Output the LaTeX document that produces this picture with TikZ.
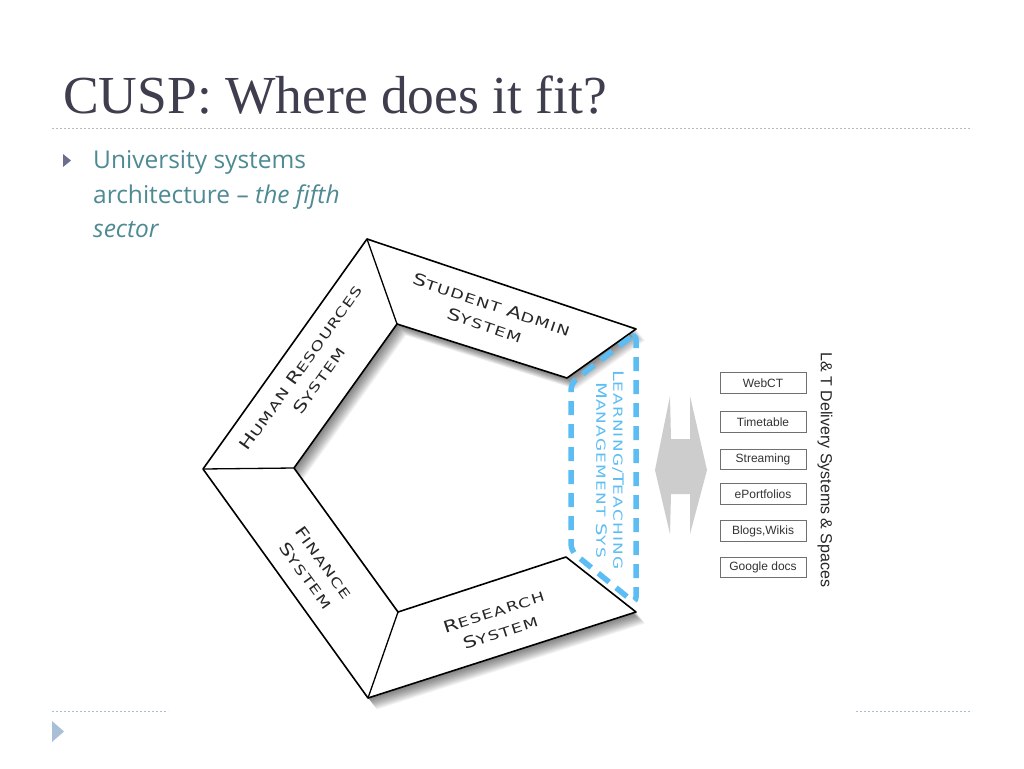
\documentclass[tikz,border=0pt]{standalone}
\usepackage{fontspec}
\usepackage{xcolor}
\usetikzlibrary{arrows.meta,positioning,calc}
\newfontfamily\titlefont{Liberation Serif}
\newfontfamily\bodyfont{Open Sans}
\newfontfamily\cpfont[FakeStretch=1.35, LetterSpace=10]{DejaVu Sans}
\newfontfamily\arialfont{Liberation Sans}
\definecolor{titlegray}{HTML}{3E3E4E}
\definecolor{bodyteal}{HTML}{4E8A93}
\definecolor{bulletgray}{HTML}{6D6D8F}
\definecolor{rulegray}{HTML}{BBBBBB}
\definecolor{footblue}{HTML}{A9BFD8}
\definecolor{lmsblue}{HTML}{5CBDF5}
\definecolor{arrowgray}{HTML}{CDCDCD}
\definecolor{boxgray}{HTML}{707070}
\newcommand{\capb}[1]{{\fontsize{16}{22}\selectfont #1}}
\newcommand{\capm}[1]{{\fontsize{14.5}{20}\selectfont #1}}
\def\framepath{(636,329) -- (367,239) -- (203,469) -- (368,698) -- (636,612)
  -- (566,557) -- (398,612) -- (294,468) -- (397,324) -- (567,378) -- cycle}

\begin{document}
\begin{tikzpicture}[x=1pt, y=-1pt,
  sector/.style={font=\cpfont\fontsize{13}{22}\selectfont, align=center, text=black!85},
  lmslabel/.style={font=\cpfont\fontsize{12.5}{17}\selectfont, align=center, text=lmsblue},
  sysbox/.style={draw=boxgray, line width=0.8pt, minimum width=86pt, minimum height=20.5pt,
    inner sep=0pt, font=\arialfont\fontsize{12}{14}\selectfont, text=black!80},
  bodytext/.style={anchor=base west, inner sep=0pt, text=bodyteal,
    font=\bodyfont\fontsize{24.5}{30}\selectfont}]
  \useasboundingbox[fill=white] (0,0) rectangle (1024,768);
  % Title
  \node[anchor=base west, inner sep=0pt, text=titlegray,
    font=\titlefont\fontsize{53.5}{60}\selectfont] (title) at (63,113) {CUSP: Where does it fit?};
  \draw[rulegray, line width=1pt, dash pattern=on 2pt off 2pt] (52,128) -- (972,128);
  % Bullet
  \fill[bulletgray] (63,154) -- (71,160.5) -- (63,167) -- cycle;
  \node[bodytext] (bul1) at (93,168) {University systems};
  \node[bodytext] (bul2) at (93,203) {architecture \textendash{} \textit{the fifth}};
  \node[bodytext] (bul3) at (93,237) {\textit{sector}};
  % Shadow of the frame
  \foreach \s in {1,...,12}
    \fill[black, opacity=0.05, shift={(\s*0.75,\s*0.95)}] \framepath;
  % Frame
  \fill[white] \framepath;
  \draw[line width=1.6pt, line join=round] \framepath;
  \draw[line width=1.3pt] (367,239) -- (397,324);
  \draw[line width=1.3pt] (203,469) -- (294,468);
  \draw[line width=1.3pt] (368,698) -- (398,612);
  % Sector labels
  \node[sector, rotate=-18.5] (admin) at (488,315) {\capb{S}TUDENT \capb{A}DMIN\\ \capb{S}YSTEM};
  \node[sector, rotate=54.5] (hr) at (310,374) {\capb{H}UMAN \capb{R}ESOURCES\\ \capb{S}YSTEM};
  \node[sector, rotate=-54.2] (finance) at (315,569) {\capb{F}INANCE\\ \capb{S}YSTEM};
  \node[sector, rotate=17.8] (research) at (497,622) {\capb{R}ESEARCH\\ \capb{S}YSTEM};
  % Fifth sector
  \draw[lmsblue, line width=5.5pt, dash pattern=on 14pt off 9pt, rounded corners=7pt]
    (636,333) -- (571,383) -- (571,551) -- (636,604) -- cycle;
  \node[lmslabel, rotate=-90] (lms) at (610,470)
    {\capm{L}EARNING/\capm{T}EACHING\\ \capm{M}ANAGEMENT \capm{S}YS};
  % Double arrow
  \fill[arrowgray] (670,396) -- (671,439) -- (690,439) -- (690,396) -- (707,470)
    -- (690,534) -- (690,494) -- (671,494) -- (670,534) -- (655,470) -- cycle;
  % Delivery systems
  \node[sysbox] (webct) at (763,383) {WebCT};
  \node[sysbox] (timetable) at (763,422) {Timetable};
  \node[sysbox] (streaming) at (763,459.5) {Streaming};
  \node[sysbox] (eport) at (763,494) {ePortfolios};
  \node[sysbox] (blogs) at (763,531) {Blogs,Wikis};
  \node[sysbox] (gdocs) at (763,567.5) {Google docs};
  \node[rotate=-90, text=black!85, font=\arialfont\fontsize{16}{18}\selectfont]
    (delivery) at (825,470) {L\& T Delivery Systems \& Spaces};
  % Footer
  \draw[footblue, line width=1pt, dash pattern=on 2pt off 2pt] (52,711) -- (168,711);
  \draw[footblue, line width=1pt, dash pattern=on 2pt off 2pt] (856,711) -- (972,711);
  \fill[footblue] (52,721) -- (64,731.5) -- (52,742) -- cycle;
\end{tikzpicture}
\end{document}
